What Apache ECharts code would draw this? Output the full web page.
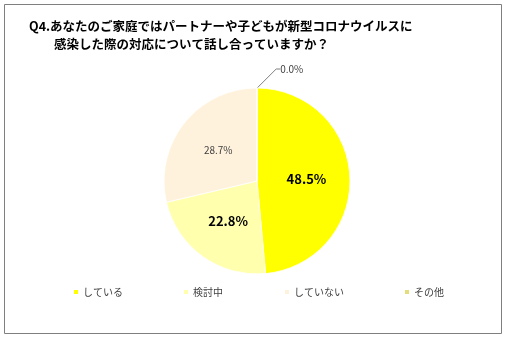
<!DOCTYPE html>
<html><head><meta charset="utf-8">
<script src="https://cdn.jsdelivr.net/npm/echarts@6/dist/echarts.min.js"></script>
<style>html,body{margin:0;padding:0;background:#fff}#c{width:505px;height:342px}</style>
</head><body><div id="c"></div>
<script>
const titleLines = ['Q4.あなたのご家庭ではパートナーや子どもが新型コロナウイルスに', '感染した際の対応について話し合っていますか？'];
const categories = ['している', '検討中', 'していない', 'その他'];
const values = [48.5, 22.8, 28.7, 0.0];
const colors = ['#FFFF00', '#FFFFAD', '#FFF2DC', '#E3DE7C'];
const legendLefts = [72, 182, 283, 403];

const font = '"Noto Sans CJK JP", "DejaVu Sans", sans-serif';
const labelStyles = [
  {position: 'inside', fontSize: 13, fontWeight: 'bold', color: '#000'},
  {position: 'inside', fontSize: 13, fontWeight: 'bold', color: '#000'},
  {position: 'inside', fontSize: 10, fontWeight: 'normal', color: '#404040'},
  {position: 'outside', fontSize: 10, fontWeight: 'normal', color: '#404040'}
];

const chart = echarts.init(document.getElementById('c'), null, {renderer: 'canvas'});
chart.setOption({
  animation: false,
  textStyle: {fontFamily: font},
  graphic: [{
    type: 'rect', shape: {x: 4.5, y: 4.5, width: 497, height: 329},
    style: {fill: 'none', stroke: '#7f7f7f', lineWidth: 1}, silent: true, z: -10
  }],
  title: {
    text: titleLines[0] + '\n\u3000\u3000' + titleLines[1],
    left: 24, top: 12,
    textStyle: {fontSize: 12.5, fontWeight: 'bold', color: '#000', lineHeight: 18, fontFamily: font}
  },
  legend: categories.map((c, i) => ({
    data: [c], left: legendLefts[i], top: 287, padding: 0,
    itemWidth: 6, itemHeight: 6, itemGap: 4, icon: 'rect',
    textStyle: {fontSize: 10, color: '#404040', fontFamily: font, padding: [0,0,0,-1]},
    selectedMode: false
  })),
  series: [{
    type: 'pie',
    center: [257, 181],
    radius: 93,
    startAngle: 89.9,
    clockwise: true,
    avoidLabelOverlap: false,
    itemStyle: {borderColor: '#fff', borderWidth: 0.8},
    labelLine: {show: false},
    data: categories.map((c, i) => ({
      name: c, value: values[i],
      itemStyle: {color: colors[i]},
      label: Object.assign({show: true, formatter: p => p.value.toFixed(1) + '%', fontFamily: font}, labelStyles[i]),
      labelLine: i === 3 ? {show: true, length: 14, length2: 4, lineStyle: {color: '#7f7f7f', width: 1}} : {show: false}
    })),
    labelLayout: function (p) {
      if (p.dataIndex === 3) {
        return {
          x: p.labelRect.x + 14,
          y: p.labelRect.y - 5,
          align: 'left',
          verticalAlign: 'top'
        };
      }
    }
  }]
});
</script></body></html>
